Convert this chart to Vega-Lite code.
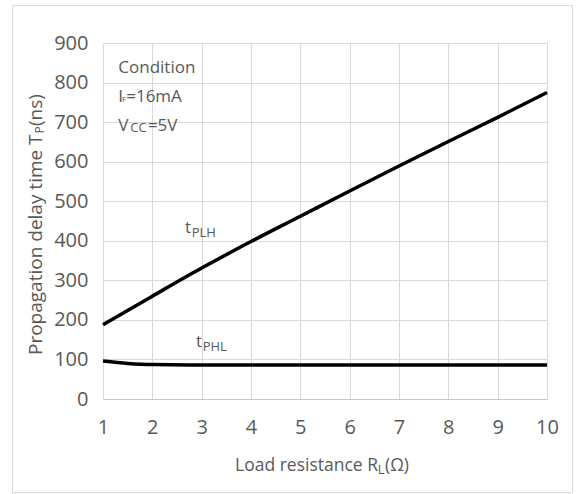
{
  "$schema": "https://vega.github.io/schema/vega-lite/v6.json",
  "width": 444,
  "height": 356,
  "autosize": "none",
  "padding": {"left": 103, "top": 43, "right": 32, "bottom": 95},
  "background": "white",
  "config": {
    "view": {"stroke": null},
    "font": "Open Sans",
    "axis": {
      "labelFont": "Open Sans",
      "labelFontSize": 20,
      "labelColor": "#595959",
      "labelFlush": false,
      "labelOverlap": false,
      "gridColor": "#d9d9d9",
      "gridWidth": 1,
      "ticks": false,
      "tickSize": 0,
      "title": null
    }
  },
  "datasets": {
    "frame": [{"x": -0.8345, "x2": 10.517, "y": -236.4, "y2": 994.8}],
    "curves": [
      {"series": "tPLH", "x": 1, "y": 188},
      {"series": "tPLH", "x": 2, "y": 260},
      {"series": "tPLH", "x": 3, "y": 331},
      {"series": "tPLH", "x": 4, "y": 398},
      {"series": "tPLH", "x": 5, "y": 462},
      {"series": "tPLH", "x": 6, "y": 526},
      {"series": "tPLH", "x": 7, "y": 589},
      {"series": "tPLH", "x": 8, "y": 651},
      {"series": "tPLH", "x": 9, "y": 712},
      {"series": "tPLH", "x": 10, "y": 775},
      {"series": "tPHL", "x": 1, "y": 96},
      {"series": "tPHL", "x": 1.5, "y": 90},
      {"series": "tPHL", "x": 2, "y": 87},
      {"series": "tPHL", "x": 3, "y": 86},
      {"series": "tPHL", "x": 4, "y": 86},
      {"series": "tPHL", "x": 5, "y": 86},
      {"series": "tPHL", "x": 6, "y": 86},
      {"series": "tPHL", "x": 7, "y": 86},
      {"series": "tPHL", "x": 8, "y": 86},
      {"series": "tPHL", "x": 9, "y": 86},
      {"series": "tPHL", "x": 10, "y": 86}
    ],
    "notes": [
      {"x": 1.31, "y": 823.4, "text": "Condition"},
      {"x": 1.31, "y": 751.6, "text": "I"},
      {"x": 1.47, "y": 751.6, "text": "=16mA"},
      {"x": 1.31, "y": 678.3, "text": "V"},
      {"x": 1.91, "y": 678.3, "text": "=5V"},
      {"x": 2.66, "y": 420.4, "text": "t"},
      {"x": 2.885, "y": 132.2, "text": "t"}
    ],
    "xtitle": [
      {"x": 3.676, "y": -181.3, "text": "Load resistance R"},
      {"x": 6.716, "y": -181.3, "text": "(Ω)"}
    ],
    "subs13": [
      {"x": 2.798, "y": 410.3, "text": "PLH"},
      {"x": 3.021, "y": 122.1, "text": "PHL"},
      {"x": 1.553, "y": 674.2, "text": "CC"},
      {"x": 6.568, "y": -189.6, "text": "L"}
    ],
    "subs7": [
      {"x": 1.385, "y": 750.1, "text": "F"}
    ],
    "ytitle": [
      {"x": -0.2365, "y": 111.2, "text": "Propagation delay time T"},
      {"x": -0.2365, "y": 690.1, "text": "(ns)"}
    ],
    "ytitlesub": [
      {"x": -0.196, "y": 671.2, "text": "P"}
    ]
  },
  "encoding": {
    "x": {
      "field": "x",
      "type": "quantitative",
      "scale": {"domain": [1, 10], "nice": false, "zero": false},
      "axis": {
        "values": [1, 2, 3, 4, 5, 6, 7, 8, 9, 10],
        "domain": true,
        "domainColor": "#c8c8c8",
        "labelPadding": 28,
        "labelBaseline": "middle"
      }
    },
    "y": {
      "field": "y",
      "type": "quantitative",
      "scale": {"domain": [0, 900], "nice": false, "zero": false},
      "axis": {
        "values": [0, 100, 200, 300, 400, 500, 600, 700, 800, 900],
        "domain": false,
        "labelPadding": 15
      }
    }
  },
  "layer": [
    {
      "data": {"name": "frame"},
      "mark": {"type": "rect", "fill": null, "stroke": "#d9d9d9", "strokeWidth": 1},
      "encoding": {"x2": {"field": "x2"}, "y2": {"field": "y2"}}
    },
    {
      "data": {"name": "curves"},
      "mark": {"type": "line", "color": "black", "strokeWidth": 3.5, "interpolate": "monotone"},
      "encoding": {"detail": {"field": "series", "type": "nominal"}}
    },
    {
      "data": {"name": "notes"},
      "mark": {"type": "text", "align": "left", "baseline": "alphabetic", "font": "Open Sans", "fontSize": 17, "color": "#595959"},
      "encoding": {"text": {"field": "text"}}
    },
    {
      "data": {"name": "xtitle"},
      "mark": {"type": "text", "align": "left", "baseline": "alphabetic", "font": "Open Sans", "fontSize": 17.5, "color": "#595959"},
      "encoding": {"text": {"field": "text"}}
    },
    {
      "data": {"name": "subs13"},
      "mark": {"type": "text", "align": "left", "baseline": "alphabetic", "font": "Open Sans", "fontSize": 13, "color": "#595959"},
      "encoding": {"text": {"field": "text"}}
    },
    {
      "data": {"name": "subs7"},
      "mark": {"type": "text", "align": "left", "baseline": "alphabetic", "font": "Open Sans", "fontSize": 8, "color": "#595959"},
      "encoding": {"text": {"field": "text"}}
    },
    {
      "data": {"name": "ytitle"},
      "mark": {"type": "text", "align": "left", "baseline": "alphabetic", "angle": 270, "font": "Open Sans", "fontSize": 19, "color": "#595959"},
      "encoding": {"text": {"field": "text"}}
    },
    {
      "data": {"name": "ytitlesub"},
      "mark": {"type": "text", "align": "left", "baseline": "alphabetic", "angle": 270, "font": "Open Sans", "fontSize": 12, "color": "#595959"},
      "encoding": {"text": {"field": "text"}}
    }
  ]
}
